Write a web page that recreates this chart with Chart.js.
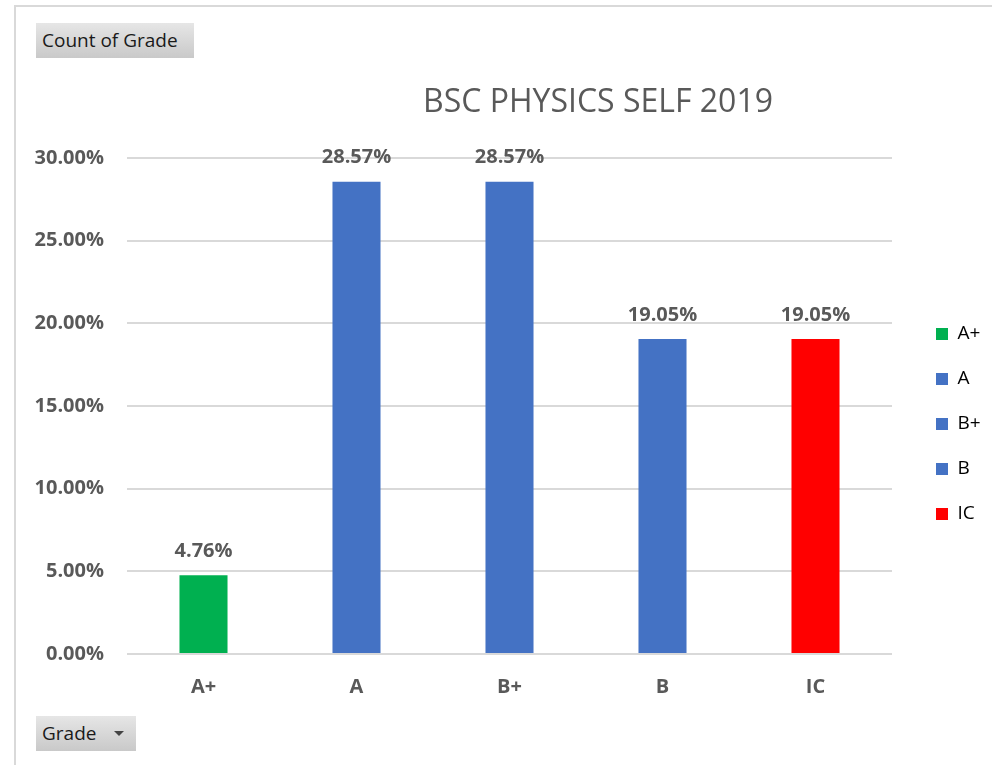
<!DOCTYPE html>
<html>
<head>
<meta charset="utf-8">
<script src="https://cdn.jsdelivr.net/npm/chart.js@4.4.1/dist/chart.umd.min.js"></script>
<style>
  html, body { margin: 0; padding: 0; background: #fff; }
  body { width: 992px; height: 765px; position: relative; overflow: hidden; font-family: "Open Sans", sans-serif; }
  #frame { position: absolute; left: 14px; top: 5px; width: 1000px; height: 800px; border-left: 2px solid #d9d9d9; border-top: 2px solid #d9d9d9; }
  #wrap { position: absolute; left: 0; top: 0; width: 992px; height: 765px; }
  .btn { position: absolute; height: 35px; line-height: 34px; padding: 0 6px; font-size: 19px; color: #1a1a1a;
         background: linear-gradient(#e6e6e6, #c9c9c9); box-sizing: border-box; }
  #btnCount { left: 36px; top: 23px; width: 158px; }
  #btnGrade { left: 36px; top: 716px; width: 100px; }
  #btnGrade span { position: absolute; left: 78px; top: 15px; width: 0; height: 0; border-left: 5px solid transparent; border-right: 5px solid transparent; border-top: 5px solid #444; }
</style>
</head>
<body>
<div id="frame"></div>
<div id="wrap"><canvas id="myChart1" width="992" height="765"></canvas></div>
<div class="btn" id="btnCount">Count of Grade</div>
<div class="btn" id="btnGrade">Grade<span></span></div>
<script>
const grades = ['A+', 'A', 'B+', 'B', 'IC'];
const percents = [4.76, 28.57, 28.57, 19.05, 19.05];
const barColors = ['#00b050', '#4472c4', '#4472c4', '#4472c4', '#ff0000'];
const yTicks = [0, 5, 10, 15, 20, 25, 30];

const gray = '#595959';
const ctx = document.getElementById('myChart1');

// labels above the bars
const barLabels = {
  id: 'barLabels',
  afterDatasetsDraw(chart) {
    const c = chart.ctx;
    const meta = chart.getDatasetMeta(0);
    c.save();
    c.font = 'bold 20px "Open Sans"';
    c.fillStyle = gray;
    c.textAlign = 'center';
    c.textBaseline = 'middle';
    meta.data.forEach(function (bar, i) {
      c.fillText(percents[i].toFixed(2) + '%', bar.x, bar.y - 24);
    });
    c.restore();
  }
};

// nudge title and legend to where excel puts them
const nudge = {
  id: 'nudge',
  afterLayout(chart) {
    const t = chart.titleBlock;
    const d = 598 - (t.left + t.right) / 2;
    t.left += d; t.right += d;
    const lg = chart.legend;
    lg.left += 18; lg.right += 18;
    lg.top += 30; lg.bottom += 30;
  }
};

new Chart(ctx, {
  type: 'bar',
  data: {
    labels: grades,
    datasets: [{
      label: 'Count of Grade',
      data: percents,
      backgroundColor: barColors,
      barPercentage: 0.314,
      categoryPercentage: 1
    }]
  },
  options: {
    responsive: false,
    animation: false,
    devicePixelRatio: 1,
    layout: { padding: { top: 84, left: 0, right: 20, bottom: 61 } },
    plugins: {
      title: {
        display: true,
        text: 'BSC PHYSICS SELF 2019',
        color: gray,
        font: { family: 'Open Sans', size: 32, weight: 'normal' },
        padding: { top: 0, bottom: 35.6 }
      },
      legend: {
        position: 'right',
        align: 'center',
        maxWidth: 80,
        labels: {
          color: gray,
          font: { family: 'Open Sans', size: 19 },
          boxWidth: 12,
          boxHeight: 12,
          padding: 26,
          generateLabels: function () {
            return grades.map(function (g, i) {
              return { text: g, fillStyle: barColors[i], strokeStyle: barColors[i], lineWidth: 0, index: i };
            });
          }
        }
      },
      tooltip: { enabled: false }
    },
    scales: {
      x: {
        grid: { display: false, drawTicks: false },
        border: { display: false },
        ticks: { color: gray, font: { family: 'Open Sans', size: 20, weight: 'bold' }, padding: 21 },
        afterFit: function (s) { s.height = 50; }
      },
      y: {
        min: 0,
        max: 30,
        afterBuildTicks: function (s) { s.ticks = yTicks.map(function (v) { return { value: v }; }); },
        grid: { color: '#d9d9d9', lineWidth: 2, drawTicks: false },
        border: { display: false },
        ticks: {
          color: gray,
          font: { family: 'Open Sans', size: 20, weight: 'bold' },
          padding: 23,
          callback: function (v) { return v.toFixed(2) + '%'; }
        },
        afterFit: function (s) { s.width = 127; }
      }
    }
  },
  plugins: [barLabels, nudge]
});
</script>
</body>
</html>
